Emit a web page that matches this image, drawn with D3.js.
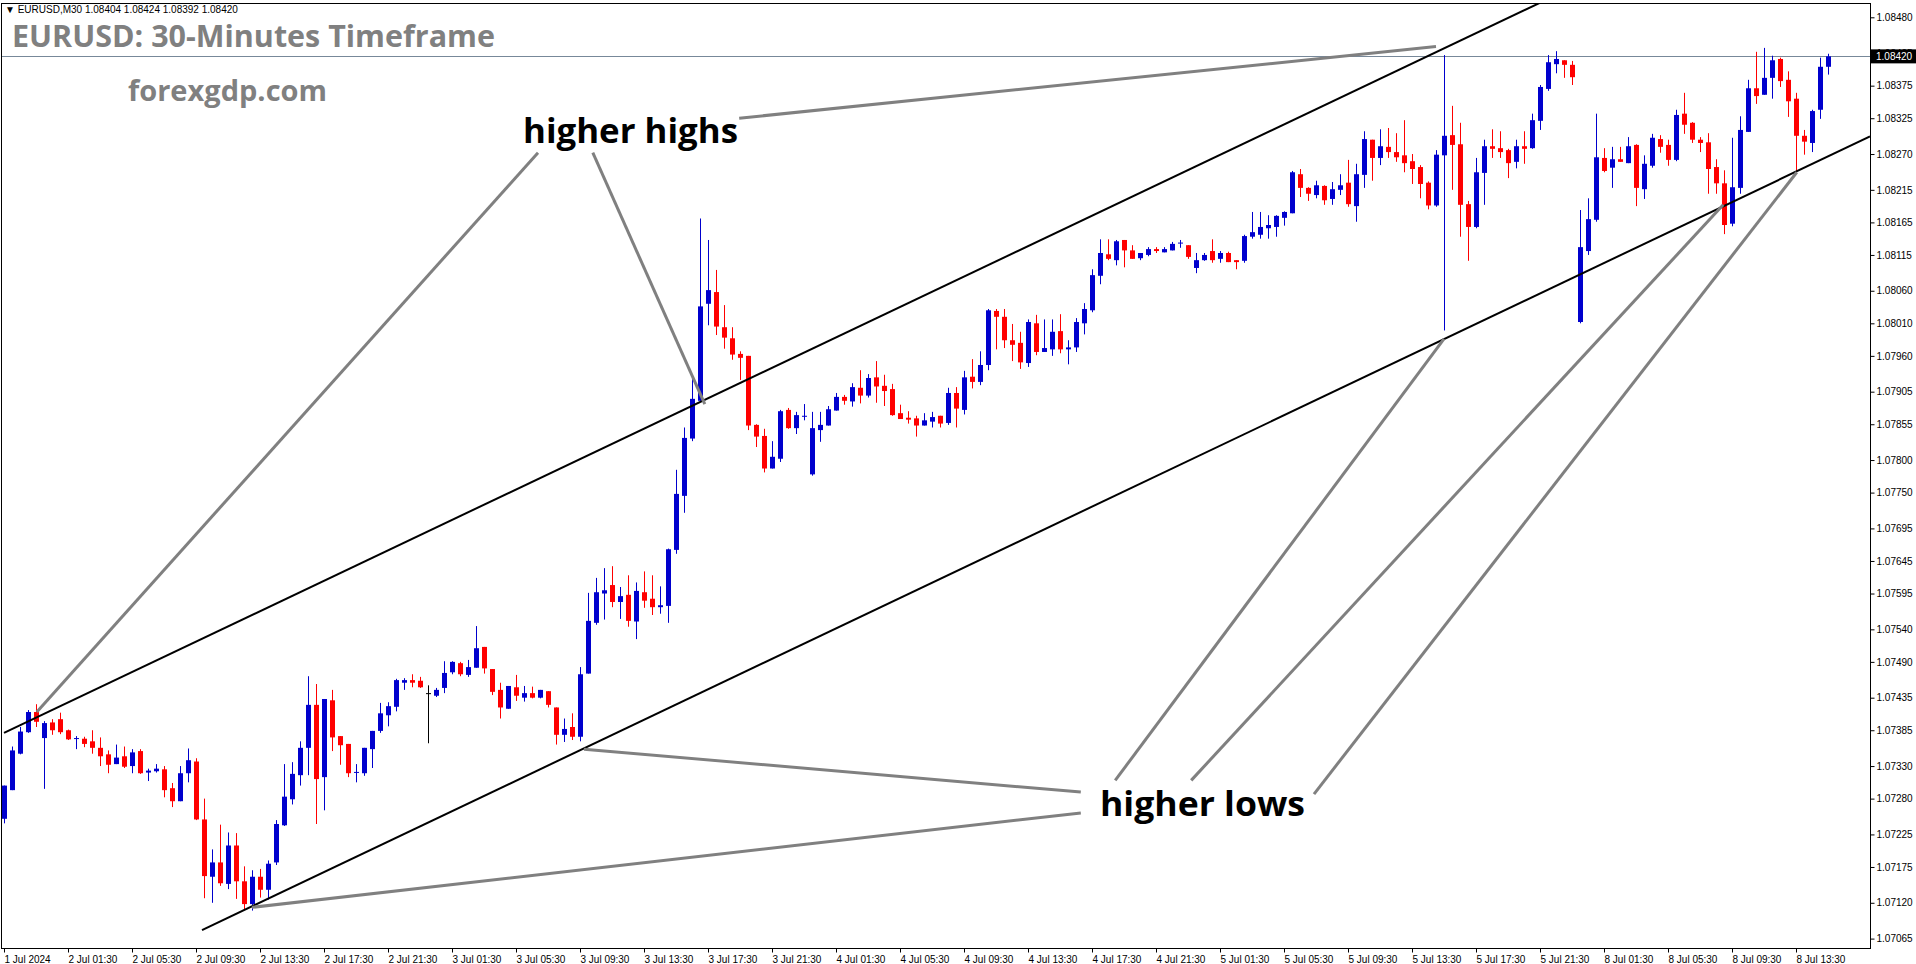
<!DOCTYPE html>
<html>
<head>
<meta charset="utf-8">
<script src="https://cdn.jsdelivr.net/npm/d3@7.9.0/dist/d3.min.js"></script>
<style>
  body { margin: 0; background: #fff; }
  svg { display: block; }
</style>
</head>
<body>
<svg id="chart"></svg>
<script>
// EURUSD M30 candles, [open, high, low, close]
const ohlc = [
  [1.07249,1.07300,1.07242,1.07300],[1.07293,1.07360,1.07293,1.07354],[1.07349,1.07390,1.07348,1.07383],[1.07382,1.07416,1.07381,1.07413],
  [1.07413,1.07425,1.07390,1.07398],[1.07373,1.07399,1.07295,1.07396],[1.07397,1.07402,1.07378,1.07385],[1.07402,1.07412,1.07379,1.07382],
  [1.07385,1.07386,1.07370,1.07371],[1.07372,1.07376,1.07356,1.07373],[1.07372,1.07375,1.07359,1.07364],[1.07368,1.07385,1.07349,1.07358],
  [1.07358,1.07374,1.07330,1.07345],[1.07348,1.07354,1.07319,1.07332],[1.07333,1.07363,1.07333,1.07343],[1.07345,1.07360,1.07327,1.07329],
  [1.07330,1.07356,1.07319,1.07351],[1.07353,1.07356,1.07318,1.07319],[1.07320,1.07326,1.07307,1.07323],[1.07322,1.07333,1.07320,1.07326],
  [1.07325,1.07330,1.07282,1.07293],[1.07296,1.07304,1.07267,1.07276],[1.07276,1.07330,1.07276,1.07319],[1.07319,1.07357,1.07305,1.07339],
  [1.07337,1.07342,1.07247,1.07248],[1.07248,1.07280,1.07127,1.07161],[1.07160,1.07202,1.07120,1.07182],[1.07182,1.07240,1.07146,1.07150],
  [1.07149,1.07228,1.07141,1.07208],[1.07208,1.07227,1.07126,1.07153],[1.07153,1.07176,1.07110,1.07118],[1.07118,1.07170,1.07108,1.07160],
  [1.07160,1.07172,1.07128,1.07140],[1.07140,1.07185,1.07125,1.07180],[1.07182,1.07247,1.07178,1.07241],[1.07239,1.07333,1.07238,1.07283],
  [1.07279,1.07336,1.07271,1.07318],[1.07316,1.07368,1.07300,1.07358],[1.07358,1.07468,1.07316,1.07424],[1.07424,1.07456,1.07241,1.07310],
  [1.07313,1.07433,1.07262,1.07433],[1.07431,1.07447,1.07353,1.07374],[1.07376,1.07376,1.07332,1.07362],[1.07364,1.07364,1.07313,1.07319],
  [1.07320,1.07333,1.07305,1.07321],[1.07319,1.07358,1.07315,1.07358],[1.07356,1.07384,1.07327,1.07384],[1.07384,1.07427,1.07381,1.07411],
  [1.07408,1.07428,1.07391,1.07422],[1.07421,1.07464,1.07414,1.07462],[1.07458,1.07465,1.07447,1.07462],[1.07462,1.07471,1.07451,1.07458],
  [1.07461,1.07467,1.07450,1.07451],[1.07442,1.07454,1.07365,1.07442],[1.07438,1.07450,1.07436,1.07447],[1.07450,1.07491,1.07442,1.07473],
  [1.07474,1.07491,1.07471,1.07490],[1.07488,1.07490,1.07468,1.07471],[1.07470,1.07493,1.07467,1.07482],[1.07481,1.07545,1.07481,1.07511],
  [1.07513,1.07513,1.07472,1.07480],[1.07479,1.07479,1.07439,1.07444],[1.07447,1.07458,1.07403,1.07420],[1.07418,1.07453,1.07418,1.07453],
  [1.07451,1.07470,1.07430,1.07438],[1.07435,1.07453,1.07429,1.07442],[1.07442,1.07452,1.07434,1.07435],[1.07435,1.07447,1.07434,1.07447],
  [1.07445,1.07445,1.07420,1.07424],[1.07420,1.07420,1.07363,1.07378],[1.07378,1.07403,1.07367,1.07387],[1.07390,1.07411,1.07370,1.07375],
  [1.07375,1.07482,1.07368,1.07471],[1.07472,1.07596,1.07472,1.07553],[1.07550,1.07619,1.07547,1.07597],[1.07595,1.07634,1.07555,1.07600],
  [1.07608,1.07637,1.07574,1.07582],[1.07582,1.07605,1.07556,1.07591],[1.07593,1.07623,1.07544,1.07553],[1.07552,1.07612,1.07525,1.07599],
  [1.07597,1.07629,1.07573,1.07584],[1.07587,1.07623,1.07562,1.07574],[1.07574,1.07606,1.07564,1.07577],[1.07576,1.07664,1.07550,1.07663],
  [1.07662,1.07785,1.07656,1.07748],[1.07745,1.07850,1.07719,1.07834],[1.07833,1.07925,1.07829,1.07894],[1.07891,1.08171,1.07891,1.08036],
  [1.08040,1.08138,1.08007,1.08061],[1.08058,1.08092,1.07992,1.08005],[1.08004,1.08038,1.07971,1.07988],[1.07987,1.08004,1.07954,1.07962],
  [1.07963,1.07967,1.07923,1.07957],[1.07960,1.07960,1.07846,1.07853],[1.07854,1.07855,1.07820,1.07836],[1.07837,1.07848,1.07781,1.07787],
  [1.07787,1.07829,1.07787,1.07805],[1.07802,1.07877,1.07797,1.07875],[1.07877,1.07880,1.07848,1.07849],[1.07849,1.07874,1.07840,1.07869],
  [1.07867,1.07886,1.07861,1.07868],[1.07778,1.07874,1.07776,1.07849],[1.07846,1.07874,1.07828,1.07854],[1.07853,1.07883,1.07853,1.07878],
  [1.07876,1.07903,1.07876,1.07897],[1.07897,1.07900,1.07885,1.07891],[1.07890,1.07918,1.07882,1.07912],[1.07911,1.07938,1.07887,1.07899],
  [1.07899,1.07932,1.07896,1.07926],[1.07927,1.07952,1.07888,1.07913],[1.07914,1.07931,1.07883,1.07906],[1.07909,1.07917,1.07868,1.07869],
  [1.07872,1.07885,1.07863,1.07863],[1.07865,1.07875,1.07856,1.07862],[1.07864,1.07868,1.07836,1.07853],[1.07853,1.07872,1.07853,1.07861],
  [1.07859,1.07874,1.07850,1.07866],[1.07868,1.07868,1.07850,1.07856],[1.07857,1.07911,1.07854,1.07903],[1.07903,1.07912,1.07850,1.07879],
  [1.07877,1.07937,1.07870,1.07927],[1.07928,1.07955,1.07910,1.07920],[1.07920,1.07967,1.07915,1.07946],[1.07946,1.08032,1.07938,1.08030],
  [1.08029,1.08032,1.07970,1.08020],[1.08020,1.08032,1.07972,1.07984],[1.07984,1.08009,1.07952,1.07977],[1.07980,1.07997,1.07940,1.07950],
  [1.07949,1.08016,1.07943,1.08012],[1.08010,1.08023,1.07961,1.07966],[1.07966,1.08016,1.07966,1.07972],[1.07970,1.08016,1.07960,1.07997],
  [1.07998,1.08024,1.07964,1.07970],[1.07970,1.07984,1.07947,1.07973],[1.07973,1.08018,1.07966,1.08012],[1.08010,1.08041,1.07993,1.08032],
  [1.08030,1.08093,1.08027,1.08084],[1.08083,1.08139,1.08070,1.08118],[1.08116,1.08139,1.08107,1.08109],[1.08107,1.08138,1.08099,1.08136],
  [1.08138,1.08138,1.08096,1.08122],[1.08122,1.08130,1.08109,1.08109],[1.08110,1.08118,1.08107,1.08118],[1.08115,1.08127,1.08113,1.08124],
  [1.08124,1.08127,1.08118,1.08121],[1.08119,1.08127,1.08119,1.08124],[1.08122,1.08135,1.08122,1.08132],[1.08133,1.08138,1.08126,1.08134],
  [1.08130,1.08130,1.08109,1.08112],[1.08095,1.08118,1.08087,1.08107],[1.08107,1.08118,1.08106,1.08115],[1.08121,1.08139,1.08103,1.08107],
  [1.08109,1.08121,1.08103,1.08118],[1.08118,1.08120,1.08104,1.08104],[1.08107,1.08107,1.08093,1.08104],[1.08106,1.08146,1.08103,1.08144],
  [1.08143,1.08181,1.08140,1.08150],[1.08146,1.08181,1.08140,1.08158],[1.08156,1.08176,1.08140,1.08161],[1.08158,1.08176,1.08143,1.08175],
  [1.08172,1.08182,1.08160,1.08181],[1.08179,1.08244,1.08179,1.08242],[1.08239,1.08247,1.08204,1.08218],[1.08218,1.08219,1.08198,1.08209],
  [1.08207,1.08229,1.08202,1.08222],[1.08221,1.08222,1.08192,1.08199],[1.08201,1.08227,1.08192,1.08216],[1.08215,1.08239,1.08207,1.08222],
  [1.08226,1.08261,1.08189,1.08193],[1.08190,1.08255,1.08166,1.08239],[1.08238,1.08305,1.08218,1.08293],[1.08292,1.08292,1.08229,1.08264],
  [1.08264,1.08308,1.08253,1.08282],[1.08281,1.08310,1.08264,1.08273],[1.08273,1.08302,1.08258,1.08265],[1.08268,1.08322,1.08242,1.08256],
  [1.08259,1.08270,1.08224,1.08247],[1.08250,1.08253,1.08202,1.08224],[1.08226,1.08228,1.08185,1.08191],[1.08191,1.08276,1.08189,1.08269],
  [1.08268,1.08422,1.07999,1.08298],[1.08299,1.08344,1.08215,1.08284],[1.08285,1.08318,1.08143,1.08192],[1.08193,1.08198,1.08106,1.08158],
  [1.08158,1.08264,1.08156,1.08242],[1.08241,1.08292,1.08192,1.08282],[1.08282,1.08308,1.08264,1.08278],[1.08279,1.08305,1.08264,1.08273],
  [1.08276,1.08278,1.08233,1.08256],[1.08258,1.08292,1.08248,1.08282],[1.08282,1.08305,1.08255,1.08278],[1.08279,1.08332,1.08278,1.08322],
  [1.08321,1.08376,1.08307,1.08373],[1.08370,1.08422,1.08367,1.08411],[1.08408,1.08428,1.08394,1.08416],[1.08414,1.08414,1.08387,1.08407],
  [1.08407,1.08413,1.08376,1.08388],[1.08012,1.08184,1.08010,1.08127],[1.08121,1.08202,1.08115,1.08170],[1.08169,1.08332,1.08166,1.08265],
  [1.08264,1.08279,1.08242,1.08244],[1.08249,1.08281,1.08218,1.08262],[1.08262,1.08281,1.08258,1.08258],[1.08256,1.08296,1.08256,1.08282],
  [1.08284,1.08285,1.08190,1.08218],[1.08216,1.08268,1.08201,1.08255],[1.08252,1.08301,1.08249,1.08295],[1.08293,1.08299,1.08272,1.08281],
  [1.08284,1.08292,1.08252,1.08261],[1.08261,1.08338,1.08259,1.08330],[1.08332,1.08364,1.08301,1.08315],[1.08318,1.08319,1.08287,1.08292],
  [1.08292,1.08296,1.08273,1.08287],[1.08288,1.08302,1.08209,1.08247],[1.08250,1.08262,1.08209,1.08225],[1.08225,1.08245,1.08147,1.08161],
  [1.08163,1.08295,1.08159,1.08219],[1.08218,1.08328,1.08209,1.08307],[1.08304,1.08384,1.08304,1.08371],[1.08371,1.08427,1.08347,1.08359],
  [1.08361,1.08433,1.08361,1.08387],[1.08387,1.08421,1.08355,1.08414],[1.08416,1.08418,1.08373,1.08382],[1.08384,1.08397,1.08327,1.08351],
  [1.08355,1.08364,1.08242,1.08298],[1.08298,1.08307,1.08269,1.08289],[1.08287,1.08338,1.08273,1.08336],[1.08338,1.08418,1.08324,1.08404],
  [1.08404,1.08424,1.08392,1.08420]
];

const timeTicks = [0,8,16,24,32,40,48,56,64,72,80,88,96,104,112,120,128,136,144,152,160,168,176,184,192,200,208,216,224];
const timeLabels = ["1 Jul 2024","2 Jul 01:30","2 Jul 05:30","2 Jul 09:30","2 Jul 13:30","2 Jul 17:30","2 Jul 21:30",
  "3 Jul 01:30","3 Jul 05:30","3 Jul 09:30","3 Jul 13:30","3 Jul 17:30","3 Jul 21:30",
  "4 Jul 01:30","4 Jul 05:30","4 Jul 09:30","4 Jul 13:30","4 Jul 17:30","4 Jul 21:30",
  "5 Jul 01:30","5 Jul 05:30","5 Jul 09:30","5 Jul 13:30","5 Jul 17:30","5 Jul 21:30",
  "8 Jul 01:30","8 Jul 05:30","8 Jul 09:30","8 Jul 13:30"];
const priceTicks = [1.08480,1.08425,1.08375,1.08325,1.08270,1.08215,1.08165,1.08115,1.08060,1.08010,1.07960,1.07905,
  1.07855,1.07800,1.07750,1.07695,1.07645,1.07595,1.07540,1.07490,1.07435,1.07385,1.07330,1.07280,1.07225,1.07175,1.07120,1.07065];
const lastPrice = 1.08420;

// trend channel, [bar index, price]
const upperChannel = [[0, 1.07381], [200, 1.08549]];
const lowerChannel = [[24.75, 1.07078], [233.25, 1.08297]];
// pointer lines [from, to] in [bar index, price]
const highPointers = [
  [[91.9, 1.08325], [179, 1.08435]],
  [[66.75, 1.08272], [4.1, 1.07413]],
  [[73.6, 1.08272], [87.6, 1.07886]]
];
const lowPointers = [
  [[134.6, 1.07290], [72.5, 1.07356]],
  [[134.6, 1.07258], [31, 1.07113]],
  [[138.9, 1.07308], [180, 1.07986]],
  [[148.4, 1.07308], [214.9, 1.08192]],
  [[163.75, 1.07287], [224.1, 1.08242]]
];

const W = 1916, H = 964;
const plot = { left: 1, top: 3, right: 1870, bottom: 948 };
const axisFont = "'Liberation Sans', Arial, sans-serif";

const svg = d3.select("#chart").attr("width", W).attr("height", H);

const x = d3.scaleLinear().domain([0, ohlc.length - 1]).range([4, 1828]);
const y = d3.scaleLinear().domain([1.07065, 1.08480]).range([938.6, 17.3]);

svg.append("defs").append("clipPath").attr("id", "plotClip")
  .append("rect")
  .attr("x", plot.left).attr("y", plot.top)
  .attr("width", plot.right - plot.left).attr("height", plot.bottom - plot.top);

const g = svg.append("g").attr("clip-path", "url(#plotClip)");

// last price line
g.append("line")
  .attr("x1", plot.left).attr("x2", plot.right)
  .attr("y1", Math.round(y(lastPrice)) + 0.5).attr("y2", Math.round(y(lastPrice)) + 0.5)
  .attr("stroke", "#778899").attr("stroke-width", 1);

// candles
const colorOf = d => d[3] > d[0] ? "#0000cd" : d[3] < d[0] ? "#ff0000" : "#000000";
const candles = g.selectAll("g.candle").data(ohlc).enter().append("g");
candles.append("line")
  .attr("x1", (d, i) => Math.round(x(i)) + 0.5).attr("x2", (d, i) => Math.round(x(i)) + 0.5)
  .attr("y1", d => y(d[1])).attr("y2", d => y(d[2]))
  .attr("stroke", colorOf).attr("stroke-width", 1);
candles.append("rect")
  .attr("x", (d, i) => Math.round(x(i)) - 2)
  .attr("y", d => y(Math.max(d[0], d[3])))
  .attr("width", 5)
  .attr("height", d => Math.max(1, Math.abs(y(d[0]) - y(d[3]))))
  .attr("fill", colorOf);

// channel lines
const line = d3.line().x(p => x(p[0])).y(p => y(p[1]));
[upperChannel, lowerChannel].forEach(seg => {
  g.append("path").attr("d", line(seg))
    .attr("fill", "none").attr("stroke", "#000").attr("stroke-width", 2);
});

// pointer lines
highPointers.concat(lowPointers).forEach(seg => {
  g.append("path").attr("d", line(seg))
    .attr("fill", "none").attr("stroke", "#808080").attr("stroke-width", 3);
});

// frame
svg.append("rect")
  .attr("x", plot.left + 0.5).attr("y", plot.top + 0.5)
  .attr("width", plot.right - plot.left).attr("height", plot.bottom - plot.top)
  .attr("fill", "none").attr("stroke", "#000").attr("stroke-width", 1);

// price axis
const yAxis = svg.append("g")
  .attr("transform", `translate(${plot.right + 0.5},0)`)
  .call(d3.axisRight(y).tickValues(priceTicks).tickSize(4).tickPadding(2).tickFormat(d3.format(".5f")));
yAxis.select(".domain").remove();
yAxis.selectAll("text").style("font-family", axisFont).style("font-size", "10px").attr("fill", "#000");

// last price label
const ly = y(lastPrice);
svg.append("rect").attr("x", plot.right + 1).attr("y", ly - 7).attr("width", 45).attr("height", 14).attr("fill", "#000");
svg.append("text").attr("x", plot.right + 6).attr("y", ly + 4)
  .style("font-family", axisFont).style("font-size", "10px")
  .attr("fill", "#fff").text(d3.format(".5f")(lastPrice));

// time axis
const xAxis = svg.append("g")
  .attr("transform", `translate(0,${plot.bottom + 0.5})`)
  .call(d3.axisBottom(x).tickValues(timeTicks).tickSize(4).tickPadding(3)
    .tickFormat((d, i) => timeLabels[i]));
xAxis.select(".domain").remove();
xAxis.selectAll("text")
  .attr("text-anchor", "start")
  .style("font-family", axisFont).style("font-size", "10px").attr("fill", "#000");

// header texts
svg.append("text").attr("x", 5).attr("y", 13)
  .style("font-family", axisFont).style("font-size", "10px")
  .text("\u25BC EURUSD,M30  1.08404 1.08424 1.08392 1.08420");

const label = (txt, px, py, size, len, color) => svg.append("text")
  .attr("x", px).attr("y", py)
  .attr("textLength", len).attr("lengthAdjust", "spacingAndGlyphs")
  .style("font-family", "'Open Sans', sans-serif").style("font-weight", "bold")
  .style("font-size", size + "px").attr("fill", color).text(txt);

label("EURUSD: 30-Minutes Timeframe", 12, 47, 31, 483, "#808080");
label("forexgdp.com", 128, 101, 29, 199, "#808080");
label("higher highs", 523, 143, 34, 215, "#000");
label("higher lows", 1100, 816, 34, 205, "#000");
</script>
</body>
</html>
